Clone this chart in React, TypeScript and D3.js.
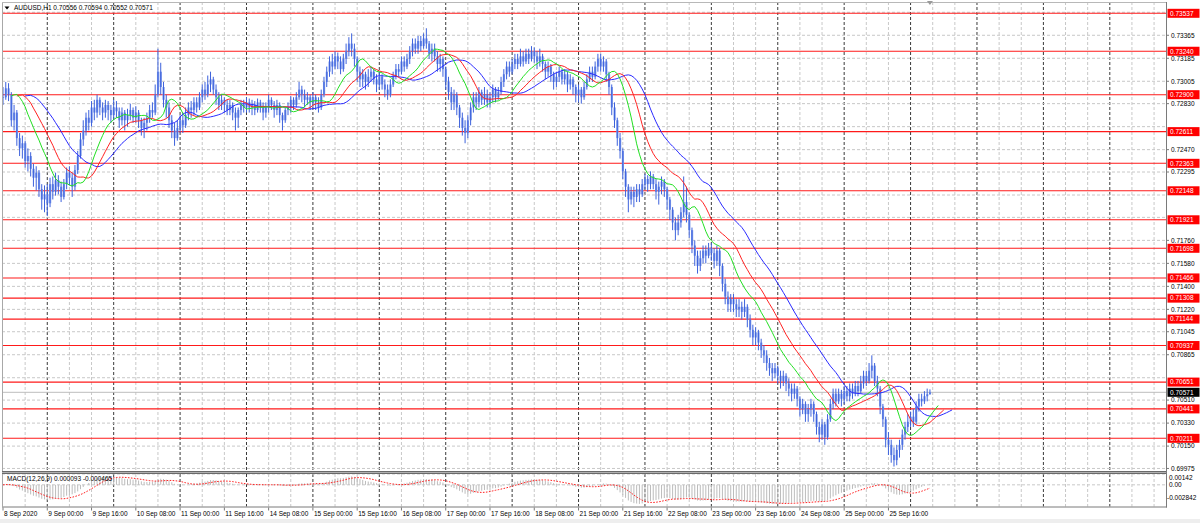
import React from 'react';
import * as d3 from 'd3';

// Hourly quotes, price x 100000 (bar 0 = 8 Sep 2020 08:00)
const closes = [
  72880,72950,72900,72700,72760,72560,72480,72520,72380,72420,
  72320,72250,72290,72160,72080,72120,72050,72200,72140,72230,
  72180,72100,72200,72290,72250,72180,72310,72420,72550,72620,
  72720,72680,72800,72760,72860,72800,72760,72820,72780,72740,
  72800,72770,72700,72760,72700,72740,72780,72720,72760,72700,
  72640,72680,72720,72780,72760,72900,73080,72960,72860,72800,
  72700,72620,72560,72640,72700,72660,72740,72800,72780,72840,
  72800,72880,72940,72900,72980,73020,72940,72880,72820,72860,
  72820,72780,72820,72760,72720,72780,72820,72800,72840,72800,
  72820,72780,72840,72800,72760,72800,72860,72820,72780,72820,
  72740,72700,72780,72800,72860,72820,72880,72940,72900,72860,
  72880,72840,72880,72840,72800,72900,73000,73080,73160,73120,
  73200,73160,73100,73180,73240,73300,73260,73180,73080,73020,
  73060,73000,73040,73080,73020,72980,73040,72980,72940,72900,
  72980,73040,73100,73080,73160,73120,73180,73240,73300,73260,
  73320,73280,73340,73300,73220,73260,73200,73140,73180,73100,
  73000,72920,72840,72900,72800,72720,72640,72600,72700,72800,
  72880,72840,72920,72860,72900,72840,72880,72940,72880,72920,
  73000,73060,73120,73080,73140,73180,73140,73200,73160,73220,
  73180,73240,73200,73160,73200,73140,73080,73120,73060,73000,
  73040,73080,73020,73060,72980,73020,72960,72900,72940,72880,
  72960,73020,73080,73040,73120,73180,73120,73160,73060,72960,
  72800,72700,72560,72460,72300,72180,72080,72140,72100,72160,
  72120,72200,72240,72200,72260,72200,72140,72180,72220,72160,
  72080,72000,71900,71840,71900,71980,72060,71960,71840,71720,
  71640,71560,71620,71680,71640,71700,71660,71600,71680,71560,
  71420,71320,71260,71300,71260,71220,71240,71200,71240,71140,
  71060,71000,71040,70960,70900,70860,70800,70760,70720,70760,
  70700,70660,70700,70640,70600,70560,70600,70520,70440,70480,
  70400,70440,70480,70400,70300,70240,70320,70220,70360,70480,
  70560,70500,70560,70520,70580,70540,70600,70560,70620,70580,
  70640,70700,70660,70740,70780,70660,70600,70460,70360,70200,
  70160,70080,70040,70120,70160,70240,70300,70340,70380,70340,
  70460,70520,70500,70540,70556,70571,
];
const highs = [
  72960,73000,72990,72920,72820,72780,72600,72580,72540,72480,
  72450,72360,72340,72310,72200,72190,72200,72250,72260,72290,
  72270,72220,72240,72330,72340,72290,72350,72460,72600,72700,
  72760,72780,72850,72860,72900,72880,72840,72860,72850,72820,
  72860,72850,72800,72800,72780,72790,72830,72800,72810,72780,
  72720,72720,72760,72820,72840,72980,73260,73150,73000,72900,
  72840,72740,72680,72700,72740,72760,72800,72840,72850,72880,
  72880,72920,72980,73000,73050,73080,73040,72980,72920,72900,
  72880,72860,72860,72840,72800,72800,72860,72860,72880,72870,
  72860,72850,72870,72860,72840,72840,72900,72880,72850,72860,
  72840,72760,72800,72840,72890,72880,72920,73000,72970,72940,
  72920,72900,72920,72900,72880,72940,73040,73120,73200,73220,
  73240,73230,73200,73220,73300,73350,73380,73300,73200,73120,
  73100,73080,73100,73120,73100,73060,73080,73060,73020,72980,
  73020,73080,73140,73140,73200,73200,73220,73280,73340,73340,
  73360,73360,73380,73420,73320,73300,73300,73240,73220,73200,
  73120,73040,72960,72940,72920,72820,72760,72700,72740,72840,
  72920,72920,72960,72940,72960,72940,72920,72980,72960,72960,
  73040,73100,73160,73160,73180,73220,73220,73260,73240,73260,
  73260,73280,73270,73240,73260,73220,73160,73160,73140,73080,
  73080,73120,73100,73100,73080,73060,73040,72980,72980,72960,
  73000,73060,73120,73120,73160,73220,73220,73200,73180,73080,
  72980,72840,72720,72600,72480,72320,72200,72180,72180,72200,
  72200,72240,72280,72270,72300,72280,72240,72220,72260,72240,
  72180,72100,72020,71940,71960,72020,72260,72180,71980,71860,
  71760,71680,71680,71720,71720,71740,71740,71700,71720,71700,
  71580,71460,71360,71340,71340,71300,71300,71280,71300,71260,
  71180,71100,71080,71060,70990,70940,70900,70840,70800,70800,
  70780,70740,70740,70720,70680,70640,70640,70620,70540,70520,
  70500,70480,70520,70500,70420,70340,70360,70340,70400,70520,
  70600,70600,70600,70590,70620,70620,70640,70640,70660,70660,
  70700,70740,70740,70800,70860,70800,70700,70620,70480,70380,
  70260,70200,70140,70160,70200,70280,70340,70400,70420,70440,
  70500,70560,70560,70580,70600,70594,
];
const lows = [
  72820,72860,72850,72650,72620,72500,72420,72400,72330,72300,
  72260,72180,72150,72100,72000,71980,71950,72020,72080,72110,
  72120,72060,72080,72160,72190,72100,72150,72280,72400,72500,
  72580,72620,72650,72700,72720,72740,72700,72720,72700,72680,
  72700,72720,72640,72660,72620,72650,72700,72680,72680,72640,
  72580,72560,72620,72680,72720,72740,72880,72900,72800,72720,
  72640,72560,72500,72540,72600,72600,72640,72700,72720,72740,
  72760,72780,72840,72860,72880,72920,72900,72820,72780,72780,
  72760,72740,72740,72700,72620,72640,72740,72760,72760,72760,
  72740,72740,72760,72760,72700,72720,72760,72780,72720,72740,
  72680,72620,72680,72740,72760,72780,72800,72860,72840,72800,
  72820,72780,72800,72780,72760,72780,72880,72960,73040,73060,
  73100,73100,73060,73080,73140,73200,73200,73120,73000,72960,
  72960,72940,72960,73000,72980,72920,72940,72940,72880,72860,
  72880,72960,73020,73040,73060,73080,73100,73140,73200,73220,
  73220,73240,73260,73260,73180,73160,73160,73080,73080,73040,
  72940,72860,72780,72780,72740,72640,72580,72520,72560,72660,
  72760,72780,72800,72820,72820,72800,72800,72840,72840,72860,
  72900,72960,73020,73040,73060,73100,73100,73120,73120,73140,
  73140,73160,73150,73100,73120,73080,73020,73040,73000,72940,
  72960,73000,72980,72980,72920,72940,72900,72840,72840,72830,
  72860,72940,73000,73000,73020,73080,73080,73080,73000,72900,
  72740,72640,72500,72400,72240,72100,71980,72040,72020,72060,
  72060,72100,72160,72140,72160,72160,72080,72040,72120,72100,
  72000,71920,71840,71760,71800,71860,71940,71900,71780,71660,
  71560,71500,71520,71580,71580,71620,71600,71540,71560,71480,
  71360,71260,71200,71200,71200,71160,71160,71140,71160,71080,
  71000,70940,70940,70900,70840,70800,70740,70700,70660,70680,
  70640,70600,70620,70580,70540,70500,70520,70460,70380,70400,
  70340,70340,70380,70340,70240,70180,70200,70160,70200,70340,
  70440,70460,70480,70460,70480,70500,70500,70520,70540,70540,
  70560,70600,70620,70640,70680,70620,70540,70400,70300,70140,
  70080,70020,69990,70000,70060,70120,70200,70260,70300,70300,
  70320,70420,70460,70480,70500,70552,
];
const quoteUnit = 100000;

const dateLabels = [
  '8 Sep 2020', '9 Sep 00:00', '9 Sep 16:00', '10 Sep 08:00', '11 Sep 00:00', '11 Sep 16:00',
  '14 Sep 08:00', '15 Sep 00:00', '15 Sep 16:00', '16 Sep 08:00', '17 Sep 00:00', '17 Sep 16:00',
  '18 Sep 08:00', '21 Sep 00:00', '21 Sep 16:00', '22 Sep 08:00', '23 Sep 00:00', '23 Sep 16:00',
  '24 Sep 08:00', '25 Sep 00:00', '25 Sep 16:00',
];
const barsPerDateLabel = 16;

const priceTicks = [
  0.73545, 0.73365, 0.73185, 0.73005, 0.7283, 0.7265, 0.7247, 0.72295, 0.72115, 0.7194,
  0.7176, 0.7158, 0.714, 0.7122, 0.71045, 0.70865, 0.70685, 0.7051, 0.7033, 0.7015, 0.69975,
];
const levelLines = [
  0.73537, 0.7324, 0.729, 0.72611, 0.72363, 0.72148, 0.71921, 0.71698, 0.71466, 0.71308,
  0.71144, 0.70937, 0.70651, 0.70441, 0.70211,
];
const currentPrice = 0.70571;
const macdMax = 0.00142;
const macdMin = -0.002842;
const titleText = 'AUDUSD,H1  0.70556 0.70594 0.70552 0.70571';
const macdTitle = 'MACD(12,26,9) 0.000093 -0.000465';

// ---------- layout ----------
const W = 1200, H = 523;
const plotLeft = 2, plotRight = 1166;
const mainTop = 2, mainBottom = 471;
const macdTop = 474, macdBottom = 506.5;
const firstBarX = 3, barStep = 2.767;
const FONT = '"Liberation Sans", Arial, sans-serif';
const FS = 6.5;

function smma(vals: number[], n: number) {
  const out: number[] = [];
  let prev = vals[0];
  vals.forEach((v, i) => {
    prev = i === 0 ? v : (prev * (n - 1) + v) / n;
    out.push(prev);
  });
  return out;
}
function ema(vals: number[], n: number) {
  const k = 2 / (n + 1);
  const out: number[] = [];
  let prev = vals[0];
  vals.forEach((v, i) => {
    prev = i === 0 ? v : prev + k * (v - prev);
    out.push(prev);
  });
  return out;
}
function sma(vals: number[], n: number) {
  return vals.map((_, i) => {
    const s = vals.slice(Math.max(0, i - n + 1), i + 1);
    return d3.mean(s) as number;
  });
}

export default function App() {
  const c = closes.map((v) => v / quoteUnit);
  const o = c.map((v, i) => (i === 0 ? v : c[i - 1]));
  const h = highs.map((v, i) => Math.max(v / quoteUnit, o[i], c[i]));
  const l = lows.map((v, i) => Math.min(v / quoteUnit, o[i], c[i]));
  const n = c.length;

  const x = d3.scaleLinear().domain([0, 1]).range([firstBarX, firstBarX + barStep]);
  const y = d3.scaleLinear().domain([0.70211, 0.73537]).range([438.3, 13.3]);
  const ym = d3.scaleLinear().domain([macdMin, macdMax]).range([macdBottom, macdTop]);

  const median = h.map((v, i) => (v + l[i]) / 2);
  const alligator = [
    { period: 13, shift: 8, color: '#2a2aff' },
    { period: 8, shift: 5, color: '#ff2222' },
    { period: 5, shift: 3, color: '#22e022' },
  ].map((a) => ({ ...a, values: smma(median, a.period) }));

  const e12 = ema(c, 12), e26 = ema(c, 26);
  const macd = c.map((_, i) => e12[i] - e26[i]);
  const signal = sma(macd, 9);
  const clampM = (v: number) => Math.max(macdMin, Math.min(macdMax, v));

  // vertical grid every 8 bars; darker every 24 (day)
  const vGrid: { i: number; dark: boolean }[] = [];
  for (let i = 8; x(i) < plotRight; i += 8) vGrid.push({ i, dark: (i - 16) % 24 === 0 });

  const labelBoxes = [
    ...levelLines.map((p) => ({ p, fill: '#ff0000' })),
    { p: currentPrice, fill: '#000000' },
  ];
  const visibleTicks = priceTicks.filter((p) => labelBoxes.every((b) => Math.abs(y(p) - y(b.p)) > 6.5));

  const alLine = (vals: number[], shift: number) =>
    d3.line<number>().x((_, i) => x(i + shift)).y((v) => y(v))(vals) || '';
  const sigLine = d3.line<number>().x((_, i) => x(i)).y((v) => ym(clampM(v)))(signal) || '';

  return (
    <svg width={W} height={H} style={{ position: 'absolute', left: 0, top: 0, background: '#fff' }}
      fontFamily={FONT} fontSize={FS}>
      <defs>
        <clipPath id="mainClip"><rect x={plotLeft} y={mainTop} width={plotRight - plotLeft} height={mainBottom - mainTop} /></clipPath>
        <clipPath id="macdClip"><rect x={plotLeft} y={macdTop} width={plotRight - plotLeft} height={macdBottom - macdTop} /></clipPath>
      </defs>
      <rect x={0} y={0} width={W} height={H} fill="#fff" />
      <rect x={0} y={519} width={W} height={4} fill="#eeeeee" />

      {/* vertical grid */}
      {vGrid.map((g) => (
        <g key={'vg' + g.i}>
          <line x1={x(g.i)} x2={x(g.i)} y1={mainTop} y2={mainBottom}
            stroke={g.dark ? '#3a3a3a' : '#c8c8c8'} strokeDasharray="3,2" strokeWidth={1} />
          <line x1={x(g.i)} x2={x(g.i)} y1={macdTop} y2={macdBottom}
            stroke={g.dark ? '#3a3a3a' : '#c8c8c8'} strokeDasharray="3,2" strokeWidth={1} />
        </g>
      ))}
      {/* horizontal grid */}
      {priceTicks.map((p) => (
        <line key={'hg' + p} x1={plotLeft} x2={plotRight} y1={y(p)} y2={y(p)}
          stroke="#c8c8c8" strokeDasharray="3,2" />
      ))}
      {[0, macdMax].map((v) => (
        <line key={'mg' + v} x1={plotLeft} x2={plotRight} y1={ym(v)} y2={ym(v)} stroke="#c8c8c8" strokeDasharray="3,2" />
      ))}

      {/* level lines */}
      <g clipPath="url(#mainClip)">
        {levelLines.map((p) => (
          <line key={'lv' + p} x1={plotLeft} x2={plotRight} y1={y(p)} y2={y(p)} stroke="#ff1a1a" strokeWidth={1.1} />
        ))}
        <line x1={plotLeft} x2={plotRight} y1={y(currentPrice)} y2={y(currentPrice)} stroke="#bdbdbd" />

        {/* candles */}
        {c.map((cl, i) => {
          const top = y(Math.max(o[i], cl));
          const bot = y(Math.min(o[i], cl));
          return (
            <g key={'b' + i}>
              <rect x={x(i) - 1} y={top} width={2.2} height={Math.max(0.8, bot - top)} fill="#7f9bec" />
              <line x1={x(i)} x2={x(i)} y1={y(h[i])} y2={y(l[i])} stroke="#3d62dc" strokeWidth={1} />
            </g>
          );
        })}

        {/* alligator */}
        {alligator.map((a) => (
          <path key={'al' + a.period} d={alLine(a.values, a.shift)} fill="none" stroke={a.color} strokeWidth={1} />
        ))}
      </g>

      {/* MACD */}
      <g clipPath="url(#macdClip)">
        {macd.map((v, i) => (
          <line key={'mh' + i} x1={x(i)} x2={x(i)} y1={ym(0)} y2={ym(clampM(v))} stroke="#bcbcbc" strokeWidth={1} />
        ))}
        <path d={sigLine} fill="none" stroke="#ff2020" strokeWidth={1} strokeDasharray="1.6,1.4" />
      </g>

      {/* frames */}
      <line x1={plotLeft + 0.5} x2={plotLeft + 0.5} y1={mainTop} y2={macdBottom} stroke="#a8a8a8" />
      <line x1={plotLeft} x2={plotRight} y1={mainTop + 0.5} y2={mainTop + 0.5} stroke="#b8b8b8" />
      <rect x={plotLeft} y={mainBottom} width={plotRight - plotLeft + 1} height={3} fill="#6a6a6a" />
      <rect x={plotLeft} y={mainBottom + 1} width={plotRight - plotLeft + 1} height={1} fill="#b0b0b0" />
      <line x1={plotLeft} x2={plotRight + 1} y1={macdBottom + 0.5} y2={macdBottom + 0.5} stroke="#7a7a7a" />
      <line x1={plotRight + 0.5} x2={plotRight + 0.5} y1={mainTop} y2={macdBottom + 1} stroke="#7a7a7a" />

      {/* shift marker */}
      <polygon points={`${x(n - 1) - 3},1 ${x(n - 1) + 3},1 ${x(n - 1)},5`} fill="#9a9a9a" />

      {/* title */}
      <polygon points="4.5,6.5 9.5,6.5 7,9.5" fill="#000" />
      <text x={14} y={10} fill="#000">{titleText}</text>
      <text x={7} y={481} fill="#000">{macdTitle}</text>

      {/* price axis */}
      {visibleTicks.map((p) => (
        <g key={'pt' + p}>
          <line x1={plotRight} x2={plotRight + 3} y1={y(p)} y2={y(p)} stroke="#7a7a7a" />
          <text x={1171} y={y(p) + 2.3} fill="#000">{p.toFixed(5)}</text>
        </g>
      ))}
      {labelBoxes.map((b) => (
        <g key={'lb' + b.p}>
          <rect x={1167.5} y={y(b.p) - 4.5} width={32} height={9} fill={b.fill} />
          <text x={1170} y={y(b.p) + 2.3} fill="#fff">{b.p.toFixed(5)}</text>
        </g>
      ))}

      {/* MACD axis */}
      <text x={1169} y={ym(macdMax) + 6} fill="#000">{macdMax.toFixed(5)}</text>
      <text x={1169} y={ym(0) + 2.3} fill="#000">0.00</text>
      <text x={1167} y={ym(macdMin) - 6.3} fill="#000">{macdMin.toFixed(6)}</text>

      {/* time axis */}
      {dateLabels.map((d, k) => {
        const xi = x(k * barsPerDateLabel);
        return (
          <g key={'dl' + k}>
            <line x1={xi} x2={xi} y1={macdBottom + 1} y2={macdBottom + 4} stroke="#7a7a7a" />
            <text x={xi + 1} y={516} fill="#000">{d}</text>
          </g>
        );
      })}
    </svg>
  );
}
